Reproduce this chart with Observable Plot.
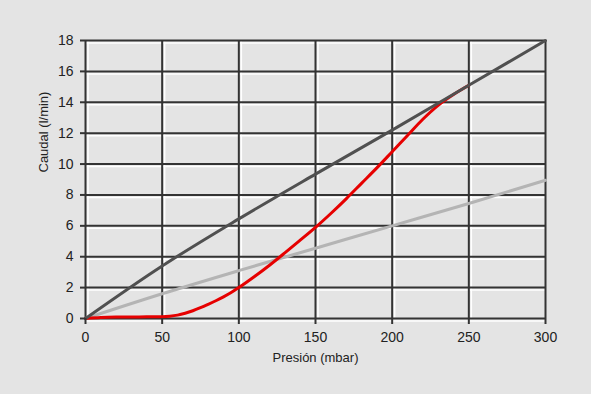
<!DOCTYPE html>
<html>
<head>
<meta charset="utf-8">
<script src="https://cdn.jsdelivr.net/npm/d3@7"></script>
<script src="https://cdn.jsdelivr.net/npm/@observablehq/plot@0.6"></script>
<style>
  html, body { margin: 0; padding: 0; background: #e4e4e4; }
</style>
</head>
<body>
<div id="chart"></div>
<script>
const xTicks = [0, 50, 100, 150, 200, 250, 300];
const yTicks = [0, 2, 4, 6, 8, 10, 12, 14, 16, 18];

// Dark gray line
const darkX = [0, 50, 100, 150, 200, 250, 300];
const darkY = [0, 3.4, 6.45, 9.35, 12.2, 15.1, 18];
// Light gray line
const lightX = [0, 50, 100, 150, 200, 250, 300];
const lightY = [0, 1.6, 3.1, 4.55, 6.0, 7.45, 8.95];
// Red curve
const redX = [0, 10, 20, 30, 40, 50, 55, 60, 65, 70, 75, 80, 85, 90, 95, 100, 110, 120, 130, 140, 150, 160, 170, 180, 190, 200, 210, 220, 230, 240, 250];
const redY = [0, 0.06, 0.09, 0.1, 0.11, 0.12, 0.15, 0.22, 0.34, 0.5, 0.7, 0.92, 1.15, 1.4, 1.68, 2.0, 2.7, 3.45, 4.25, 5.07, 5.9, 6.8, 7.75, 8.75, 9.75, 10.8, 11.85, 12.9, 13.8, 14.5, 15.1];

const xLabel = "Presión (mbar)";
const yLabel = "Caudal (l/min)";

const dark = darkX.map((x, i) => ({x, y: darkY[i]}));
const light = lightX.map((x, i) => ({x, y: lightY[i]}));
const red = redX.map((x, i) => ({x, y: redY[i]}));

const chart = Plot.plot({
  width: 591,
  height: 394,
  marginLeft: 85,
  marginRight: 46,
  marginTop: 40,
  marginBottom: 76,
  x: {domain: [0, 300]},
  y: {domain: [0, 18]},
  style: {background: "#e4e4e4", fontFamily: "'Liberation Sans', Arial, sans-serif", fontSize: "14px", color: "#222"},
  marks: [
    Plot.ruleY(yTicks, {stroke: "white", strokeWidth: 1.5, dy: 2.5}),
    Plot.ruleX(xTicks.filter(d => d < 300), {stroke: "white", strokeWidth: 1.5, dx: 2.5}),
    Plot.ruleY(yTicks, {stroke: "#333", strokeWidth: 2}),
    Plot.ruleX(xTicks, {stroke: "#333", strokeWidth: 2}),
    Plot.line(light, {x: "x", y: "y", stroke: "#b4b4b4", strokeWidth: 3, curve: "monotone-x"}),
    Plot.line(red, {x: "x", y: "y", stroke: "#e60000", strokeWidth: 3, curve: "monotone-x"}),
    Plot.line(dark, {x: "x", y: "y", stroke: "#505050", strokeWidth: 3, curve: "monotone-x"}),
    Plot.axisX(xTicks, {tickSize: 6, tickPadding: 8, strokeWidth: 2, label: null, stroke: "#333", fontSize: 14}),
    Plot.axisY(yTicks, {tickSize: 5, tickPadding: 7, strokeWidth: 2, label: null, stroke: "#333", fontSize: 14}),
    Plot.text([xLabel], {frameAnchor: "bottom", dy: 43, fontSize: 13, fill: "#222"}),
    Plot.text([yLabel], {frameAnchor: "left", dx: -42, dy: -7, rotate: -90, fontSize: 13, fill: "#222"})
  ]
});
document.getElementById("chart").appendChild(chart);
</script>
</body>
</html>
